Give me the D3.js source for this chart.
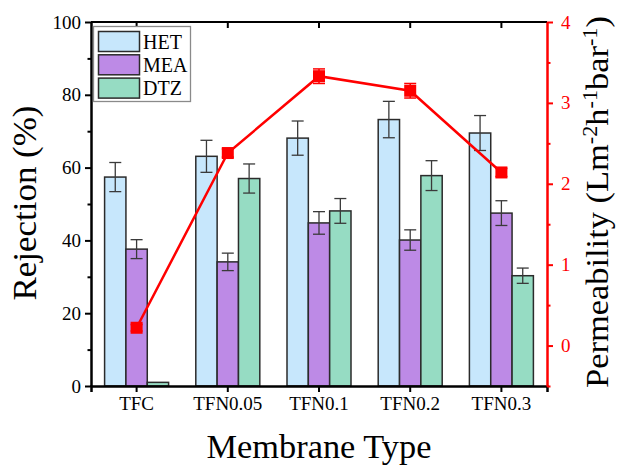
<!DOCTYPE html>
<html lang="en">
<head>
<meta charset="UTF-8">
<title>Rejection and permeability</title>
<script src="https://d3js.org/d3.v7.min.js"></script>
<style>
  body { margin: 0; background: #fff; }
  svg text { font-family: "Liberation Serif", "Times New Roman", serif; }
</style>
</head>
<body>
<div id="chart"></div>
<script>
// data
const categories = ["TFC", "TFN0.05", "TFN0.1", "TFN0.2", "TFN0.3"];
const seriesNames = ["HET", "MEA", "DTZ"];
const hetValues = [57.4, 63.1, 68.1, 73.2, 69.5];
const hetErrors = [4.0, 4.4, 4.7, 5.0, 4.8];
const meaValues = [37.6, 34.1, 44.8, 40.1, 47.5];
const meaErrors = [2.6, 2.4, 3.1, 2.8, 3.4];
const dtzValues = [1.0, 57.0, 48.1, 57.8, 30.3];
const dtzErrors = [0, 4.0, 3.4, 4.1, 2.1];
const permValues = [0.22, 2.38, 3.33, 3.15, 2.14];
const permErrors = [0.04, 0.05, 0.09, 0.09, 0.05];
const leftTicks = [0, 20, 40, 60, 80, 100];
const rightTicks = [0, 1, 2, 3, 4];

const colors = {HET: "#c7e7fc", MEA: "#bd8ae6", DTZ: "#96dcc3"};
const serif = '"Liberation Serif", "Times New Roman", serif';
const W = 617, H = 465;
const L = 91, R = 547, T = 22, B = 386;

const svg = d3.select("#chart").append("svg").attr("width", W).attr("height", H);

const x = d3.scaleBand().domain(categories).range([L, R]).padding(0);
const x1 = d3.scaleBand().domain(seriesNames).range([-32, 32]).padding(0);
const y = d3.scaleLinear().domain([0, 100]).range([B, T]);
const y2 = d3.scaleLinear().domain([-0.5, 4]).range([B, T]);

const rows = [];
categories.forEach((c, i) => {
    rows.push({cat: c, s: "HET", v: hetValues[i], e: hetErrors[i]});
    rows.push({cat: c, s: "MEA", v: meaValues[i], e: meaErrors[i]});
    rows.push({cat: c, s: "DTZ", v: dtzValues[i], e: dtzErrors[i]});
});
const cx = d => x(d.cat) + x.bandwidth() / 2;

// bars
svg.append("g").selectAll("rect").data(rows).enter().append("rect")
   .attr("x", d => cx(d) + x1(d.s))
   .attr("width", x1.bandwidth())
   .attr("y", d => y(d.v))
   .attr("height", d => B - y(d.v))
   .style("fill", d => colors[d.s])
   .style("stroke", "#2b2b2b")
   .style("stroke-width", 1.5);

// bar error bars
const eb = svg.append("g").style("stroke", "#3a3a3a").style("stroke-width", 1.3);
rows.filter(d => d.e > 0).forEach(d => {
    const xm = cx(d) + x1(d.s) + x1.bandwidth() / 2;
    eb.append("line").attr("x1", xm).attr("x2", xm).attr("y1", y(d.v + d.e)).attr("y2", y(d.v - d.e));
    eb.append("line").attr("x1", xm - 6).attr("x2", xm + 6).attr("y1", y(d.v + d.e)).attr("y2", y(d.v + d.e));
    eb.append("line").attr("x1", xm - 6).attr("x2", xm + 6).attr("y1", y(d.v - d.e)).attr("y2", y(d.v - d.e));
});

// axes
const axisG = svg.append("g");
// top frame
axisG.append("line").attr("x1", L).attr("x2", R).attr("y1", T).attr("y2", T)
     .style("stroke", "#000").style("stroke-width", 2);
categories.forEach(c => {
    const xc = x(c) + x.bandwidth() / 2;
    axisG.append("line").attr("x1", xc).attr("x2", xc).attr("y1", T).attr("y2", T + 6)
         .style("stroke", "#000").style("stroke-width", 2);
});

function styleTicks(g, color) {
    g.attr("font-family", serif);
    g.selectAll("text").style("font-family", serif).style("font-size", "19px").style("fill", color);
}

const xAxis = svg.append("g").attr("transform", `translate(0,${B})`)
    .call(d3.axisBottom(x).tickSize(6).tickPadding(5));
xAxis.select(".domain").style("stroke-width", 2.5);
xAxis.selectAll(".tick line").style("stroke-width", 2);
styleTicks(xAxis, "#000");

const yAxis = svg.append("g").attr("transform", `translate(${L},0)`)
    .call(d3.axisLeft(y).tickValues(leftTicks).tickSize(6).tickPadding(4).tickSizeOuter(0));
yAxis.select(".domain").style("stroke-width", 2.5);
yAxis.selectAll(".tick line").style("stroke-width", 2);
styleTicks(yAxis, "#000");
svg.append("g").attr("transform", `translate(${L},0)`)
   .call(d3.axisLeft(y).tickValues([10, 30, 50, 70, 90]).tickSize(3.5).tickFormat("").tickSizeOuter(0))
   .call(g => g.select(".domain").remove())
   .selectAll("line").style("stroke-width", 2);

const y2Axis = svg.append("g").attr("transform", `translate(${R},0)`)
    .call(d3.axisRight(y2).tickValues(rightTicks).tickFormat(d3.format("d")).tickSize(6).tickPadding(8).tickSizeOuter(0));
y2Axis.select(".domain").style("stroke", "#ff0000").style("stroke-width", 2.5);
y2Axis.selectAll(".tick line").style("stroke", "#ff0000").style("stroke-width", 2);
styleTicks(y2Axis, "#ff0000");
svg.append("g").attr("transform", `translate(${R},0)`)
   .call(d3.axisRight(y2).tickValues([-0.5, 0.5, 1.5, 2.5, 3.5]).tickSize(3.5).tickFormat("").tickSizeOuter(0))
   .call(g => g.select(".domain").remove())
   .selectAll("line").style("stroke", "#ff0000").style("stroke-width", 2);

// permeability line
const pts = categories.map((c, i) => ({cat: c, v: permValues[i], e: permErrors[i]}));
svg.append("path").datum(pts)
   .attr("d", d3.line().x(d => cx(d)).y(d => y2(d.v)))
   .style("fill", "none").style("stroke", "#ff0000").style("stroke-width", 2.5);
const pe = svg.append("g").style("stroke", "#ff0000").style("stroke-width", 1.5);
pts.forEach(d => {
    const xm = cx(d);
    pe.append("line").attr("x1", xm).attr("x2", xm).attr("y1", y2(d.v + d.e)).attr("y2", y2(d.v - d.e));
    pe.append("line").attr("x1", xm - 6).attr("x2", xm + 6).attr("y1", y2(d.v + d.e)).attr("y2", y2(d.v + d.e));
    pe.append("line").attr("x1", xm - 6).attr("x2", xm + 6).attr("y1", y2(d.v - d.e)).attr("y2", y2(d.v - d.e));
});
svg.append("g").selectAll("rect").data(pts).enter().append("rect")
   .attr("x", d => cx(d) - 6).attr("y", d => y2(d.v) - 6)
   .attr("width", 12).attr("height", 12)
   .style("fill", "#ff0000");

// legend
const lg = svg.append("g");
lg.append("rect").attr("x", 93.5).attr("y", 26.5).attr("width", 97).attr("height", 75)
  .style("fill", "#fff").style("stroke", "#8a8a8a").style("stroke-width", 1.3);
seriesNames.forEach((s, i) => {
    const yy = 31.5 + i * 23.3;
    lg.append("rect").attr("x", 98.5).attr("y", yy).attr("width", 41).attr("height", 20)
      .style("fill", colors[s]).style("stroke", "#2b2b2b").style("stroke-width", 1.5);
    lg.append("text").attr("x", 143).attr("y", yy + 17).text(s)
      .style("font-size", "20px").style("fill", "#000");
});

// titles
function fitLength(sel, target) {
    const w = sel.node().getComputedTextLength();
    return target / w;
}
const tl = svg.append("text").attr("text-anchor", "middle").style("font-size", "34px").text("Rejection (%)");
tl.attr("transform", `translate(36,203) rotate(-90) scale(${fitLength(tl, 195)},1)`);

const tb = svg.append("text").attr("text-anchor", "middle").style("font-size", "34px").text("Membrane Type");
tb.attr("transform", `translate(319,458) scale(${fitLength(tb, 225)},1)`);

const tr = svg.append("text").attr("text-anchor", "middle").style("font-size", "31px");
tr.append("tspan").text("Permeability (Lm");
tr.append("tspan").attr("dy", -11).style("font-size", "20px").text("-2");
tr.append("tspan").attr("dy", 11).text("h");
tr.append("tspan").attr("dy", -11).style("font-size", "20px").text("-1");
tr.append("tspan").attr("dy", 11).text("bar");
tr.append("tspan").attr("dy", -11).style("font-size", "20px").text("-1");
tr.append("tspan").attr("dy", 11).text(")");
tr.attr("transform", `translate(608,202) rotate(-90) scale(${fitLength(tr, 372)},1)`);
</script>
</body>
</html>
